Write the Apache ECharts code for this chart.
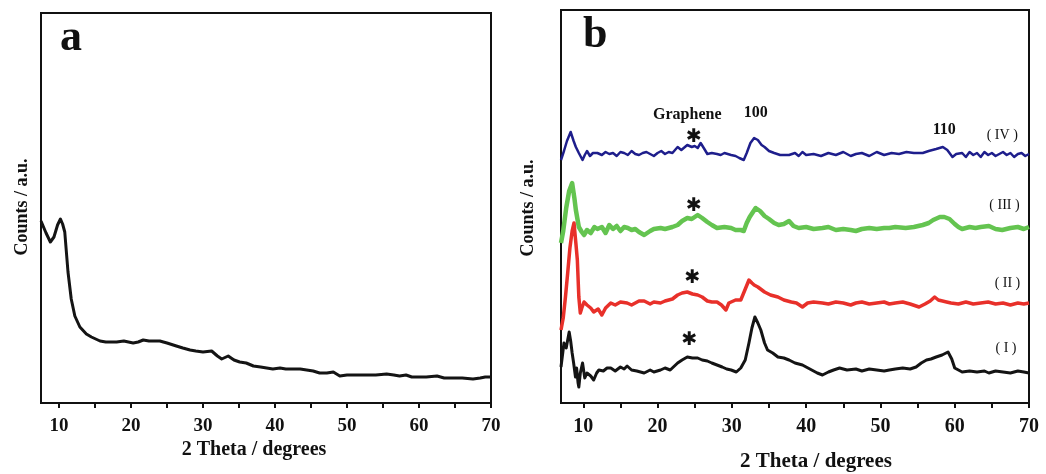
<!DOCTYPE html>
<html>
<head>
<meta charset="utf-8">
<script src="https://cdn.jsdelivr.net/npm/echarts@6/dist/echarts.min.js"></script>
<style>
html,body{margin:0;padding:0;background:#fff;}
#chart{width:1046px;height:474px;}
</style>
</head>
<body>
<div id="chart"></div>
<script>
// ---------- DATA ----------
const xTickLabels = [10, 20, 30, 40, 50, 60, 70];
const xTicks = [10, 15, 20, 25, 30, 35, 40, 45, 50, 55, 60, 65, 70];

// Panel a
const aX = [7.5,8.2,8.8,9.3,9.8,10.2,10.5,10.8,11.25,11.7,12.2,12.9,13.8,14.5,15.7,16.5,18,19,20.3,21,21.7,22.5,24,25,26.3,27.2,28.2,29,30,31.2,32,32.6,33.5,34.3,35.1,36,37,38,39.7,40.7,41.5,42.5,43.5,44.4,45.3,46.2,47.2,48.1,49,50,50.9,52,52.7,54,55.5,56.5,57.3,58.2,59,60.1,61,62.5,63.5,64.8,66,67.5,68.5,69.2,70];
const aY = [182,170,161,166,178,184,179,171,131,104,87,76,69,66,62,61,61,62,60,61,63,62,62,60,57,55,53,52,51,52,47,44,47,43,41,40,37,36,34,35,34,34,34,33,32,30,30,31,27,28,28,28,28,28,29,28,27,28,26,26,26,27,25,25,25,24,25,26,26];

// Panel b, curve (IV) blue
const b4X = [7.0,7.4,7.8,8.3,8.7,9.0,9.4,9.9,10.2,10.5,10.9,11.3,11.9,12.5,13,13.5,14,14.5,15,15.5,16,16.5,17,17.5,18,18.5,19,19.5,20,20.5,21,21.5,22,22.7,23.2,24,24.6,25.0,25.4,25.8,26.3,26.7,27.3,28,28.5,29,29.9,30.5,31,31.6,32,32.5,33,33.5,34,34.4,35,35.7,36.5,37.7,38.5,39,39.5,40,41,42,43,44,45,46,46.7,47.5,48.5,49.5,50.5,51.5,52.5,53.5,54.5,55.7,56.5,57.5,58.4,59,59.7,60.2,61,61.5,62,62.5,63,63.5,64,64.5,65,65.5,66,66.5,67,67.5,68,68.5,69,69.5,70];
const b4Y = [243,252,262,271,262,256,250,243,248,252,247,250,250,248,251,249,250,247,251,250,248,252,249,248,250,251,249,247,250,252,249,251,250,256,253,258,256,257,255,260,254,249,250,249,248,250,248,247,245,243,250,260,265,263,258,256,252,250,248,248,250,247,251,248,249,247,250,248,251,247,249,250,247,251,248,250,249,251,250,250,252,254,256,253,246,249,250,246,251,248,250,246,251,248,250,247,249,251,248,250,246,249,250,247,249];

// curve (III) green
const b3X = [7.0,7.3,7.7,8.1,8.5,8.8,9.0,9.4,9.8,10.1,10.5,11,11.5,11.9,12.5,13,13.5,14,14.5,15,15.5,16,16.5,17,17.5,18.2,19,19.5,20.4,21,22,22.7,23.3,24,24.6,25.4,26,26.7,27.3,28,29,29.9,30.5,31.2,31.6,32.0,32.4,33.2,33.8,34.4,35,35.7,36.3,37,37.7,38.3,39,40,41,42.2,43,44,45,46,46.7,47.5,48.5,49.5,50.5,51.2,52,53.4,54.5,55.7,56.5,57.1,58,58.6,59.3,60,60.5,61,62,62.8,63.5,64.6,65.5,66.4,67.5,68.5,69.3,70];
const b3Y = [160,172,195,212,220,205,193,176,171,168,173,170,176,174,176,170,178,174,177,172,176,175,173,174,171,168,172,174,175,174,176,178,182,185,184,188,185,181,178,175,176,175,173,173,172,180,186,195,192,187,184,180,178,179,182,177,175,176,174,175,176,173,174,173,172,174,175,174,175,175,176,175,176,178,180,183,186,186,184,179,176,174,176,175,176,177,174,173,175,176,174,176];

// curve (II) red
const b2X = [7.0,7.3,7.6,7.9,8.2,8.5,8.75,9.0,9.2,9.4,9.6,9.8,10.1,10.5,11,11.4,12,12.5,13,13.7,14.3,15,15.9,16.5,17,17.5,18.2,19,19.5,20.4,21,22,22.7,23.3,24,24.7,25.4,26,26.7,27.3,28,28.6,29.2,29.6,29.9,30.5,31.2,31.7,32.3,32.7,33,33.5,34.4,35.2,36.2,37,38,38.7,39.5,40.2,41,42.2,43,44,45,46,46.7,47.5,48.5,49.5,50.5,51.2,52,53,54,55.2,56,56.7,57.3,57.8,58.9,59.5,60.5,61.5,62.5,63.5,64.5,65.5,66.5,67.5,68.5,69.3,70];
const b2Y = [73,85,106,130,155,172,180,160,143,106,90,95,101,98,95,91,94,88,95,100,98,101,100,98,100,102,102,99,101,100,102,104,108,110,111,109,108,106,102,101,101,98,93,100,101,103,103,112,123,120,118,116,111,108,106,103,101,100,96,100,101,100,99,101,100,98,100,101,99,100,101,99,100,101,99,96,99,102,106,103,101,100,99,101,99,100,101,99,100,98,100,99,100];

// curve (I) black
const b1X = [7.0,7.2,7.4,7.7,8.1,8.3,8.5,8.7,8.95,9.1,9.3,9.4,9.6,9.9,10.2,10.5,11,11.4,11.8,12.1,12.7,13.2,13.7,14.3,15,15.5,15.9,16.5,17.2,18.2,19,19.5,20.4,21,21.7,22.7,23.3,24,24.7,25.4,26,26.7,27.3,28,28.7,29.3,29.9,30.6,31.2,31.8,32.3,32.7,33.1,33.5,33.9,34.4,34.8,35.5,36.2,37,37.7,38.5,39.5,40.5,41.5,42.2,43,43.7,44.5,45.5,46.7,47.5,48.5,49.5,50.5,51.2,52,53,54,54.8,55.5,56.2,56.8,57.5,58.3,59.1,59.6,60,60.5,61,62,63,64,64.6,65.5,66.5,67.5,68.5,69.3,70];
const b1Y = [36,48,60,55,71,62,50,40,26,35,20,16,30,40,25,30,27,23,30,33,32,35,35,32,36,34,37,33,32,30,33,31,33,35,33,40,43,46,45,45,43,42,40,38,36,34,33,31,35,43,60,75,86,80,73,60,53,50,46,45,43,40,38,34,30,28,31,33,35,33,34,32,34,33,32,33,34,35,34,36,40,43,44,46,48,51,44,35,33,31,32,31,32,30,32,31,30,32,31,30];

// annotations in panel b data coordinates: [x, y, text]
const stars = [[24.9,266,'\u2731'],[24.9,197,'\u2731'],[24.7,125,'\u2731'],[24.3,63,'\u2731']];
const peakLabels = [[24.0,288,'Graphene'],[33.2,290,'100'],[58.6,273,'110']];
const curveLabels = [[66.4,268,'( IV )'],[66.7,198,'( III )'],[67.1,120,'( II )'],[66.9,55,'( I )']];

// ---------- BUILD ----------
const zip = (xs, ys) => xs.map((x, i) => [x, ys[i]]);
const SERIF = '"Liberation Serif", "DejaVu Serif", serif';

function xAxisCfg(gridIndex, min) {
  return {
    type: 'value', gridIndex, min, max: 70,
    axisLine: { show: true, onZero: false, lineStyle: { color: '#111', width: 2 } },
    axisTick: { show: true, inside: false, length: 5, lineStyle: { color: '#111', width: 2 }, customValues: xTicks },
    axisLabel: { show: true, customValues: xTickLabels, margin: 14, color: '#111', fontFamily: SERIF, fontWeight: 'bold', fontSize: gridIndex === 0 ? 19 : 20 },
    splitLine: { show: false }
  };
}
function yAxisCfg(gridIndex, max) {
  return {
    type: 'value', gridIndex, min: 0, max,
    axisLine: { show: true, lineStyle: { color: '#111', width: 2 } },
    axisTick: { show: false }, axisLabel: { show: false }, splitLine: { show: false }
  };
}
function lineSeries(name, data, color, width, xi) {
  return {
    name, type: 'line', xAxisIndex: xi, yAxisIndex: xi, data,
    showSymbol: false, symbol: 'none', smooth: false, animation: false,
    lineStyle: { color, width, join: 'round' }, z: 3
  };
}
function textSeries(data, size, weight, family) {
  return {
    type: 'scatter', xAxisIndex: 1, yAxisIndex: 1, symbolSize: 1, animation: false, silent: true,
    itemStyle: { opacity: 0 },
    data: data.map(d => ({ value: [d[0], d[1]], label: { formatter: d[2] } })),
    label: { show: true, position: 'inside', color: '#111', opacity: 1, fontFamily: family, fontWeight: weight, fontSize: size },
    emphasis: { disabled: true },
    z: 5
  };
}

const option = {
  backgroundColor: '#fff',
  animation: false,
  grid: [
    { left: 41, top: 13, right: 555, bottom: 71, show: true, borderColor: '#111', borderWidth: 2, backgroundColor: 'transparent' },
    { left: 561, top: 10, right: 17, bottom: 71, show: true, borderColor: '#111', borderWidth: 2, backgroundColor: 'transparent' }
  ],
  xAxis: [xAxisCfg(0, 7.5), xAxisCfg(1, 7)],
  yAxis: [yAxisCfg(0, 390), yAxisCfg(1, 393)],
  series: [
    lineSeries('a', zip(aX, aY), '#141414', 3, 0),
    lineSeries('IV', zip(b4X, b4Y), '#1e1e8c', 2.5, 1),
    lineSeries('III', zip(b3X, b3Y), '#64c450', 4.5, 1),
    lineSeries('II', zip(b2X, b2Y), '#e8302a', 3.5, 1),
    lineSeries('I', zip(b1X, b1Y), '#141414', 3, 1),
    textSeries(stars, 19, 'bold', '"DejaVu Sans", sans-serif'),
    textSeries(peakLabels, 16, 'bold', SERIF),
    textSeries(curveLabels, 14, 'normal', SERIF)
  ],
  graphic: [
    { type: 'text', left: 60, top: 17, style: { text: 'a', font: 'bold 44px ' + SERIF, fill: '#111' } },
    { type: 'text', left: 583, top: 14, style: { text: 'b', font: 'bold 44px ' + SERIF, fill: '#111' } },
    { type: 'text', x: 254, y: 450, style: { text: '2 Theta / degrees', font: 'bold 20px ' + SERIF, fill: '#111', align: 'center', verticalAlign: 'middle' } },
    { type: 'text', x: 816, y: 462, style: { text: '2 Theta / degrees', font: 'bold 21px ' + SERIF, fill: '#111', align: 'center', verticalAlign: 'middle' } },
    { type: 'text', x: 22, y: 207, rotation: Math.PI / 2, style: { text: 'Counts / a.u.', font: 'bold 18px ' + SERIF, fill: '#111', align: 'center', verticalAlign: 'middle' } },
    { type: 'text', x: 528, y: 208, rotation: Math.PI / 2, style: { text: 'Counts / a.u.', font: 'bold 18px ' + SERIF, fill: '#111', align: 'center', verticalAlign: 'middle' } }
  ]
};

const chart = echarts.init(document.getElementById('chart'), null, { renderer: 'canvas' });
chart.setOption(option);
</script>
</body>
</html>
